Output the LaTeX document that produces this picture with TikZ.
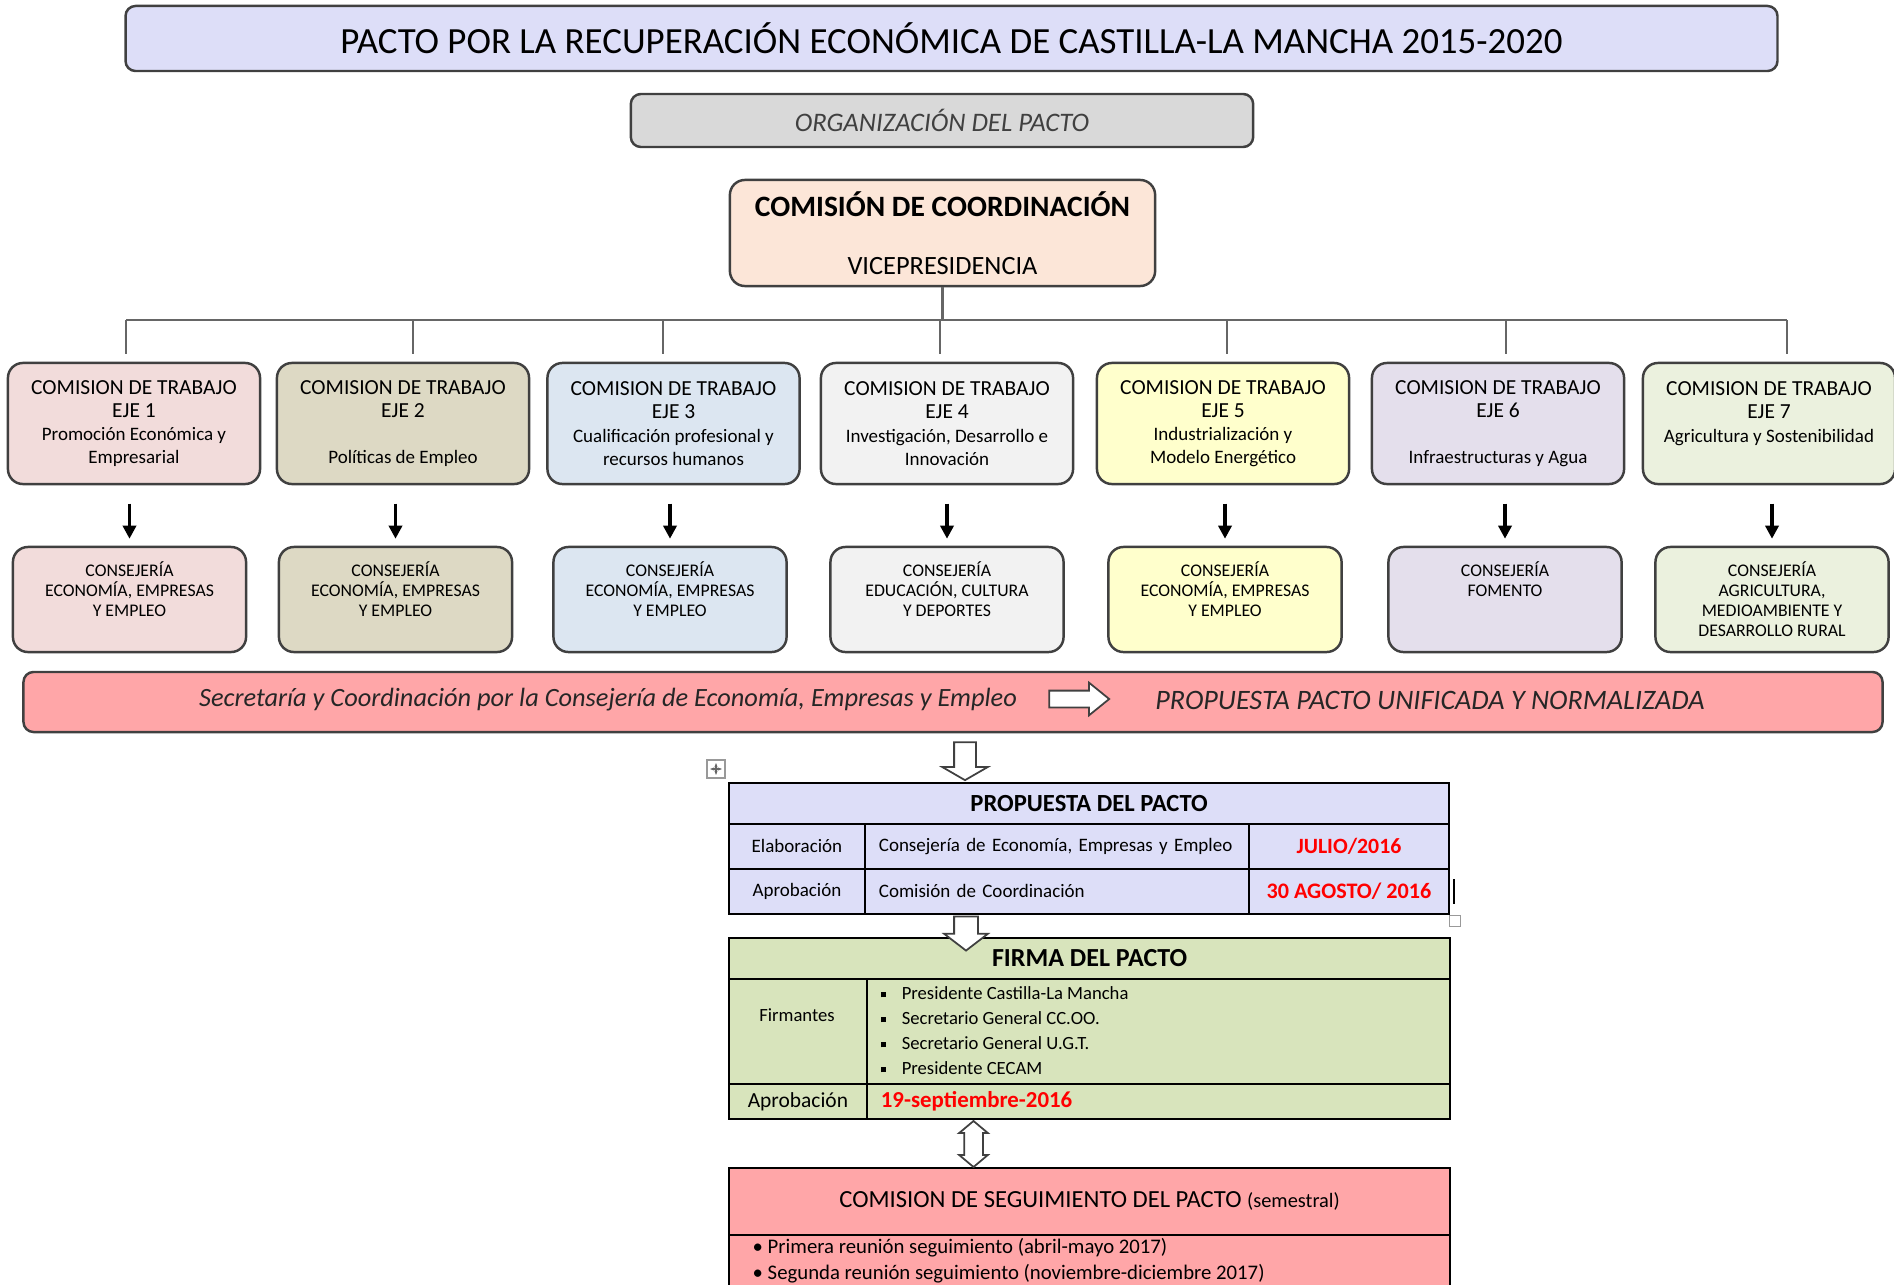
\documentclass[tikz,border=0pt]{standalone}
\usepackage{fontspec}
\setmainfont{Carlito}
\usetikzlibrary{shapes.arrows,arrows.meta,calc}

\definecolor{titlefill}{RGB}{221,222,248}
\definecolor{orgfill}{RGB}{217,217,217}
\definecolor{coordfill}{RGB}{252,230,216}
\definecolor{ejeA}{RGB}{242,220,219}
\definecolor{ejeB}{RGB}{221,217,196}
\definecolor{ejeC}{RGB}{220,230,241}
\definecolor{ejeD}{RGB}{242,242,242}
\definecolor{ejeE}{RGB}{255,255,204}
\definecolor{ejeF}{RGB}{228,223,236}
\definecolor{ejeG}{RGB}{235,241,222}
\definecolor{barfill}{RGB}{255,166,168}
\definecolor{firmafill}{RGB}{216,228,188}
\definecolor{edge}{RGB}{64,64,64}
\definecolor{datered}{RGB}{255,0,0}

\newcommand\sqbul{\rule[0.6pt]{1.5pt}{1.5pt}\hspace{4.5pt}}
\newcommand\ejedesc[1]{{\fontsize{5.4}{6.6}\selectfont #1}}

\begin{document}
\begin{tikzpicture}[x=0.01cm,y=-0.01cm,
  rbox/.style={draw=edge,line width=0.7pt,rounded corners=0.15cm,align=center,inner sep=0pt},
  ejebox/.style={rbox,minimum width=2.52cm,minimum height=1.21cm,font=\fontsize{6.1}{6.6}\selectfont},
  consbox/.style={rbox,minimum width=2.33cm,minimum height=1.05cm,font=\fontsize{5.05}{5.7}\selectfont},
  cell/.style={draw=black,line width=0.5pt,inner sep=0pt,anchor=north west},
  hollow/.style={single arrow,draw=edge,fill=white,line width=0.5pt},
  blk/.style={-{Triangle[length=0.13cm,width=0.13cm]},line width=1pt},
  tree/.style={draw=black!60,line width=0.6pt}
]
\clip (0,0) rectangle (1894,1285);

% cabecera
\node[rbox,fill=titlefill,rounded corners=0.1cm,minimum width=16.51cm,minimum height=0.65cm,
  font=\fontsize{10.5}{12}\selectfont] (title) at (951.5,38.5)
  {PACTO POR LA RECUPERACIÓN ECONÓMICA DE CASTILLA-LA MANCHA 2015-2020};
\node[rbox,fill=orgfill,rounded corners=0.1cm,minimum width=6.22cm,minimum height=0.53cm,
  text=edge,font=\itshape\fontsize{7.6}{9}\selectfont] (org) at (942,120.5) {ORGANIZACIÓN DEL PACTO};
\node[rbox,fill=coordfill,minimum width=4.25cm,minimum height=1.06cm,
  font=\fontsize{7.5}{8}\selectfont] (coord) at (942.5,233)
  {{\bfseries\fontsize{8.4}{8}\selectfont COMISIÓN DE COORDINACIÓN}\\[8.5pt]VICEPRESIDENCIA};

% comisiones de trabajo
\foreach \i/\cx/\col/\txt in {
  1/134/ejeA/{EJE 1\\\ejedesc{Promoción Económica y}\\\ejedesc{Empresarial}},
  2/403/ejeB/{EJE 2\\\mbox{}\\\ejedesc{Políticas de Empleo}},
  3/673.5/ejeC/{EJE 3\\\ejedesc{Cualificación profesional y}\\\ejedesc{recursos humanos}},
  4/947/ejeD/{EJE 4\\\ejedesc{Investigación, Desarrollo e}\\\ejedesc{Innovación}},
  5/1223/ejeE/{EJE 5\\\ejedesc{Industrialización y}\\\ejedesc{Modelo Energético}},
  6/1498/ejeF/{EJE 6\\\mbox{}\\\ejedesc{Infraestructuras y Agua}},
  7/1769/ejeG/{EJE 7\\\ejedesc{Agricultura y Sostenibilidad}\\\mbox{}}}
  \node[ejebox,fill=\col] (eje\i) at (\cx,423.5) {COMISION DE TRABAJO\\\txt};

% consejerias
\foreach \i/\cx/\col/\txt in {
  1/129.5/ejeA/{ECONOMÍA, EMPRESAS\\Y EMPLEO\\\mbox{}},
  2/395.5/ejeB/{ECONOMÍA, EMPRESAS\\Y EMPLEO\\\mbox{}},
  3/670/ejeC/{ECONOMÍA, EMPRESAS\\Y EMPLEO\\\mbox{}},
  4/947/ejeD/{EDUCACIÓN, CULTURA\\Y DEPORTES\\\mbox{}},
  5/1225/ejeE/{ECONOMÍA, EMPRESAS\\Y EMPLEO\\\mbox{}},
  6/1505/ejeF/{FOMENTO\\\mbox{}\\\mbox{}},
  7/1772/ejeG/{AGRICULTURA,\\MEDIOAMBIENTE Y\\DESARROLLO RURAL}}
  \node[consbox,fill=\col] (cons\i) at (\cx,599.5) {CONSEJERÍA\\\txt};

% arbol
\coordinate (bus) at (0,320);
\foreach \i/\x in {1/126,2/413,3/663,4/940,5/1227,6/1506,7/1787}
  \coordinate (drop\i) at (\x,354);
\draw[tree] (coord.south) -- (coord.south |- bus);
\draw[tree] (drop1 |- bus) -- (drop7 |- bus);
\foreach \i in {1,...,7}{
  \draw[tree] (drop\i |- bus) -- (drop\i);
  \draw[blk] ($(cons\i.north)+(0,-42)$) -- ($(cons\i.north)+(0,-7)$);
}

% secretaria
\node[rbox,fill=barfill,rounded corners=0.1cm,minimum width=18.58cm,minimum height=0.60cm] (secbar) at (953,702) {};
\node[text=black!85,font=\itshape\fontsize{7.5}{8}\selectfont] (sectxt) at (608,700)
  {Secretaría y Coordinación por la Consejería de Economía, Empresas y Empleo};
\node[hollow,inner sep=0.075cm,minimum height=0.60cm,minimum width=0.31cm,single arrow head extend=0.08cm,
  single arrow tip angle=78] (secarrow) at (1074,699) {};
\node[text=black!85,font=\itshape\fontsize{8}{9}\selectfont] (unif) at (1430,700)
  {PROPUESTA PACTO UNIFICADA Y NORMALIZADA};

% propuesta del pacto
\node[cell,fill=titlefill,minimum width=7.20cm,minimum height=0.41cm,
  font=\bfseries\fontsize{7}{8}\selectfont] (ph) at (728,782) {PROPUESTA DEL PACTO};
\node[cell,fill=titlefill,minimum width=1.36cm,minimum height=0.45cm,
  font=\fontsize{5.4}{7}\selectfont] (pe1) at (728,823) {Elaboración};
\node[cell,fill=titlefill,minimum width=3.84cm,minimum height=0.45cm,inner xsep=0.14cm,
  text width=3.56cm,align=left,font=\fontsize{5.4}{7}\selectfont] (pe2) at (864,823)
  {Consejería de Economía, Empresas y Empleo};
\node[cell,fill=titlefill,minimum width=2.00cm,minimum height=0.45cm,text=datered,
  font=\bfseries\fontsize{6.2}{7}\selectfont] (pe3) at (1248,823) {JULIO/2016};
\node[cell,fill=titlefill,minimum width=1.36cm,minimum height=0.45cm,
  font=\fontsize{5.4}{7}\selectfont] (pa1) at (728,868) {Aprobación};
\node[cell,fill=titlefill,minimum width=3.84cm,minimum height=0.45cm,inner xsep=0.14cm,
  text width=3.56cm,align=left,font=\fontsize{5.4}{7}\selectfont] (pa2) at (864,868)
  {Comisión de Coordinación};
\node[cell,fill=titlefill,minimum width=2.00cm,minimum height=0.45cm,text=datered,
  font=\bfseries\fontsize{6.3}{7}\selectfont] (pa3) at (1248,868) {30 AGOSTO/ 2016};

% firma del pacto
\node[cell,fill=firmafill,minimum width=7.21cm,minimum height=0.41cm,
  font=\bfseries\fontsize{7.4}{8}\selectfont] (fh) at (728,937) {FIRMA DEL PACTO};
\node[cell,fill=firmafill,minimum width=1.38cm,minimum height=1.05cm] (ff1) at (728,978) {};
\node[inner sep=0pt,font=\fontsize{5.3}{7}\selectfont] (firmantes) at (797,1015) {Firmantes};
\node[cell,fill=firmafill,minimum width=5.83cm,minimum height=1.05cm] (ff2) at (866,978) {};
\node[anchor=west,align=left,inner sep=0pt,font=\fontsize{5.3}{7.1}\selectfont] (flist) at (880,1030.5)
  {\sqbul Presidente Castilla-La Mancha\\\sqbul Secretario General CC.OO.\\
   \sqbul Secretario General U.G.T.\\\sqbul Presidente CECAM};
\node[cell,fill=firmafill,minimum width=1.38cm,minimum height=0.35cm,
  font=\fontsize{6.1}{7}\selectfont] (fa1) at (728,1083) {Aprobación};
\node[cell,fill=firmafill,minimum width=5.83cm,minimum height=0.35cm,inner xsep=0.14cm,
  text width=5.55cm,align=left,text=datered,font=\bfseries\fontsize{6.5}{7}\selectfont] (fa2) at (866,1083)
  {19-septiembre-2016};

% seguimiento
\node[cell,fill=barfill,minimum width=7.21cm,minimum height=0.67cm,
  font=\fontsize{7}{8}\selectfont] (sh) at (728,1167)
  {COMISION DE SEGUIMIENTO DEL PACTO {\fontsize{5.8}{7}\selectfont(semestral)}};
\node[cell,fill=barfill,minimum width=7.21cm,minimum height=0.80cm] (sb) at (728,1234) {};
\node[anchor=north west,align=left,inner sep=0pt,font=\fontsize{5.9}{7.4}\selectfont] (slist) at (752,1238)
  {\textbullet\ Primera reunión seguimiento (abril-mayo 2017)\\
   \textbullet\ Segunda reunión seguimiento (noviembre-diciembre 2017)};

% flechas huecas
\node[hollow,inner sep=0.1cm,shape border rotate=270,minimum height=0.38cm,minimum width=0.44cm,
  single arrow head extend=0.12cm,single arrow tip angle=120] (down1) at (965,758) {};
\node[hollow,inner sep=0.11cm,shape border rotate=270,minimum height=0.34cm,minimum width=0.42cm,
  single arrow head extend=0.10cm,single arrow tip angle=105] (down2) at (966,929) {};
\node[double arrow,draw=edge,fill=white,line width=0.5pt,inner sep=0.085cm,shape border rotate=90,
  minimum height=0.46cm,minimum width=0.27cm,double arrow head extend=0.05cm,
  double arrow tip angle=100] (dbl) at (973.5,1144) {};

% marcas de la tabla
\node[draw=black!40,fill=white,minimum size=0.18cm,inner sep=0pt] (movehandle) at (716,769) {};
\draw[black!60,line width=0.3pt,{Stealth[length=1.2pt]}-{Stealth[length=1.2pt]}]
  ($(movehandle.center)+(-6,0)$) -- ($(movehandle.center)+(6,0)$);
\draw[black!60,line width=0.3pt,{Stealth[length=1.2pt]}-{Stealth[length=1.2pt]}]
  ($(movehandle.center)+(0,-6)$) -- ($(movehandle.center)+(0,6)$);
\node[draw=black!40,fill=white,minimum size=0.11cm,inner sep=0pt] (sizehandle) at (1455,921) {};
\draw[black,line width=0.6pt] (pa3.east) ++(4,-12) -- ++(0,25);
\end{tikzpicture}
\end{document}
